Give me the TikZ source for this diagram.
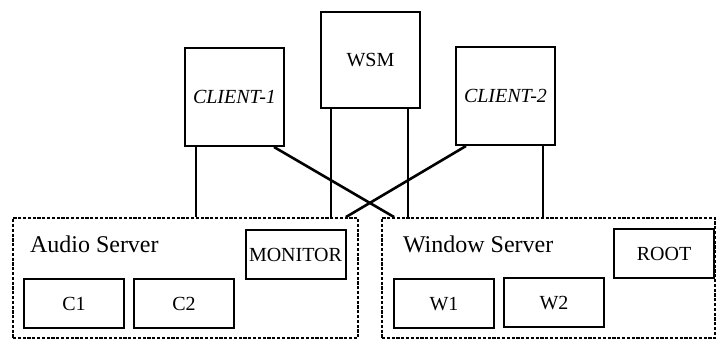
\documentclass[tikz,border=0pt]{standalone}
\usepackage{fontspec}
\setmainfont{Liberation Serif}
\usetikzlibrary{calc}

\begin{document}
\begin{tikzpicture}[x=0.5pt, y=-0.5pt, line width=1pt,
  proc/.style={draw, minimum width=49.5pt, minimum height=49pt, inner sep=1pt,
               font=\fontsize{10}{12}\selectfont},
  task/.style={draw, minimum width=50pt, minimum height=24.5pt, inner sep=1pt,
               font=\fontsize{10}{12}\selectfont},
  server/.style={draw, dash pattern=on 1.6pt off 0.8pt, line width=0.9pt,
                 minimum height=60pt},
  title/.style={anchor=base west, inner sep=0pt, font=\fontsize{12}{14}\selectfont},
  link/.style={line width=1.3pt},
]
\useasboundingbox (0,0) rectangle (717,340);

% the two servers
\node[server, minimum width=172.5pt] (audio) at (185.5,278) {};
\node[server, minimum width=166.5pt] (window) at (548.5,278) {};
\node[title] (audiolbl) at (29,253) {Audio Server};
\node[title] (windowlbl) at (402,253) {Window Server};

% processes on top
\node[proc] (client1) at (234.5,97) {\itshape CLIENT-1};
\node[proc, minimum height=48pt] (wsm) at (370.5,60) {WSM};
\node[proc] (client2) at (505.5,96) {\itshape CLIENT-2};

% resources inside the servers
\node[task] (monitor) at (295.5,254.5) {MONITOR};
\node[task] (cone) at (74,304) {C1};
\node[task] (ctwo) at (184,304) {C2};
\node[task] (wone) at (444,304) {W1};
\node[task] (wtwo) at (554,303) {W2};
\node[task] (root) at (664,253.5) {ROOT};

% connections
\draw ($(client1.south west)+(12,0)$) coordinate (c1a) -- (c1a |- audio.north);
\draw ($(wsm.south west)+(11,0)$) coordinate (wa) -- (wa |- audio.north);
\draw ($(wsm.south east)+(-13,0)$) coordinate (ww) -- (ww |- window.north);
\draw ($(client2.south east)+(-13,0)$) coordinate (c2w) -- (c2w |- window.north);
\draw[link] ($(client1.south east)+(-11,0)$) -- ($(window.north west)+(13,0)$);
\draw[link] ($(client2.south west)+(11,0)$) -- ($(audio.north east)+(-13,0)$);
\end{tikzpicture}
\end{document}
